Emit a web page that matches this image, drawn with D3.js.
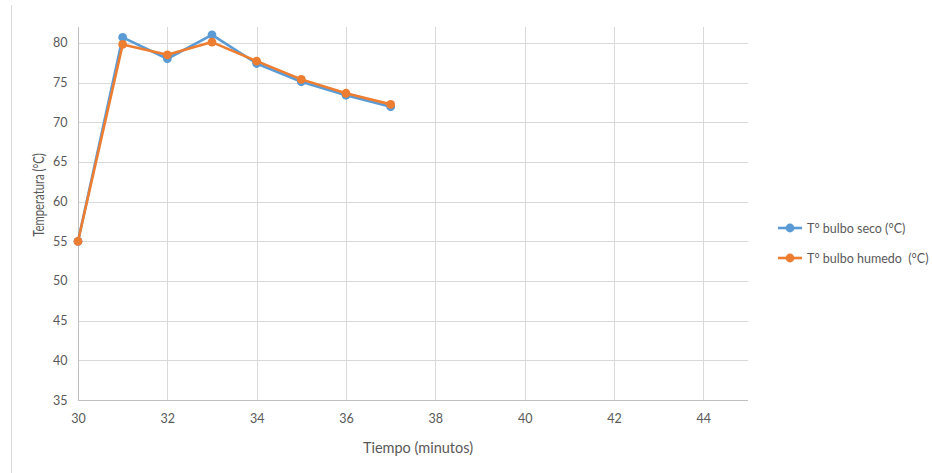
<!DOCTYPE html>
<html>
<head>
<meta charset="utf-8">
<script src="https://cdn.jsdelivr.net/npm/d3@7"></script>
<style>
  html, body { margin: 0; padding: 0; background: #fff; }
  svg { display: block; font-family: Lato, "Open Sans", sans-serif; }
</style>
</head>
<body>
<svg id="chart" width="932" height="473"></svg>
<script>
// Drying-air temperatures over time
const minutes = [30, 31, 32, 33, 34, 35, 36, 37];
const bulboSeco = [55.0, 80.7, 78.0, 81.0, 77.4, 75.1, 73.4, 71.95];
const bulboHumedo = [55.0, 79.8, 78.5, 80.1, 77.7, 75.4, 73.65, 72.25];
const seriesNames = ["T° bulbo seco (°C)", "T° bulbo humedo  (°C)"];
const seriesColors = ["#5b9bd5", "#ed7d31"];
const xTicks = [30, 32, 34, 36, 38, 40, 42, 44];
const yTicks = [35, 40, 45, 50, 55, 60, 65, 70, 75, 80];

const svg = d3.select("#chart");
const plot = { left: 78, top: 27, right: 748, bottom: 400 };

const x = d3.scaleLinear().domain([30, 45]).range([plot.left, plot.right]);
const y = d3.scaleLinear().domain([35, 82]).range([plot.bottom, plot.top]);

// outer frame edge on the left
svg.append("line")
  .attr("x1", 11.5).attr("x2", 11.5).attr("y1", 5).attr("y2", 473)
  .attr("stroke", "#d9d9d9").attr("stroke-width", 1);

// horizontal gridlines
svg.append("g").selectAll("line").data(yTicks.filter(d => d > 35)).join("line")
  .attr("x1", plot.left).attr("x2", plot.right)
  .attr("y1", d => Math.round(y(d)) + 0.5).attr("y2", d => Math.round(y(d)) + 0.5)
  .attr("stroke", "#d9d9d9").attr("stroke-width", 1);

// vertical gridlines
svg.append("g").selectAll("line").data(xTicks.filter(d => d > 30)).join("line")
  .attr("x1", d => Math.round(x(d)) + 0.5).attr("x2", d => Math.round(x(d)) + 0.5)
  .attr("y1", plot.top).attr("y2", plot.bottom)
  .attr("stroke", "#d9d9d9").attr("stroke-width", 1);

// axes
const xAxis = d3.axisBottom(x).tickValues(xTicks).tickSize(0).tickPadding(14).tickFormat(d3.format("d"));
const yAxis = d3.axisLeft(y).tickValues(yTicks).tickSize(0).tickPadding(11).tickFormat(d3.format("d"));

const gx = svg.append("g").attr("transform", `translate(0,${plot.bottom + 0.5})`).call(xAxis);
gx.select(".domain").attr("stroke", "#bfbfbf").attr("d", `M${plot.left},0H${plot.right}`);
const gy = svg.append("g").attr("transform", `translate(${plot.left + 0.5},0)`).call(yAxis);
gy.select(".domain").attr("stroke", "#bfbfbf").attr("d", `M0,${plot.top}V${plot.bottom}`);

svg.selectAll(".tick text")
  .attr("fill", "#595959").attr("font-size", 12.5)
  .attr("font-family", "Lato, 'Open Sans', sans-serif");

// axis titles
svg.append("text")
  .attr("x", 418).attr("y", 453)
  .attr("text-anchor", "middle").attr("fill", "#595959").attr("font-size", 14.5)
  .text("Tiempo (minutos)");
svg.append("text")
  .attr("transform", "translate(44,195) rotate(-90) scale(0.78,1)")
  .attr("text-anchor", "middle").attr("fill", "#595959").attr("font-size", 14.5)
  .text("Temperatura (°C)");

// series
const line = d3.line().x((d, i) => x(minutes[i])).y(d => y(d));
[bulboSeco, bulboHumedo].forEach((vals, k) => {
  const g = svg.append("g");
  g.append("path").datum(vals)
    .attr("d", line).attr("fill", "none")
    .attr("stroke", seriesColors[k]).attr("stroke-width", 2.6)
    .attr("stroke-linejoin", "round");
  g.selectAll("circle").data(vals).join("circle")
    .attr("cx", (d, i) => x(minutes[i])).attr("cy", d => y(d))
    .attr("r", 4.4).attr("fill", seriesColors[k]);
});

// legend
const legend = svg.append("g");
seriesNames.forEach((name, k) => {
  const ly = 228 + k * 30;
  legend.append("line")
    .attr("x1", 778).attr("x2", 802).attr("y1", ly).attr("y2", ly)
    .attr("stroke", seriesColors[k]).attr("stroke-width", 2.6);
  legend.append("circle").attr("cx", 790).attr("cy", ly).attr("r", 4.4).attr("fill", seriesColors[k]);
  legend.append("text")
    .attr("x", 807).attr("y", ly + 4.5)
    .attr("fill", "#595959").attr("font-size", 12.5)
    .attr("xml:space", "preserve").style("white-space", "pre")
    .text(name);
});
</script>
</body>
</html>
